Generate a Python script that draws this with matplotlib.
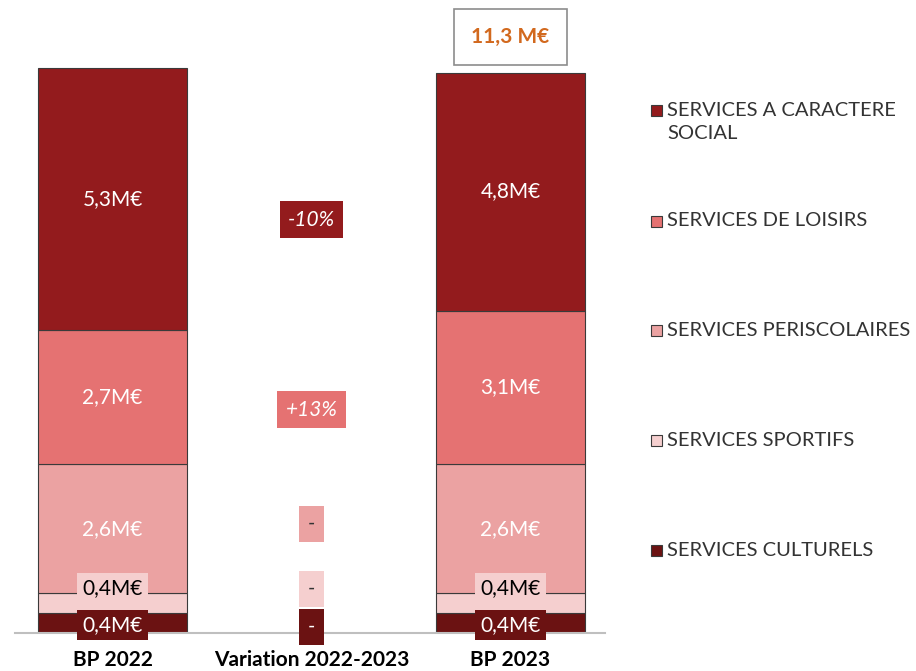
import matplotlib
matplotlib.use("Agg")
import matplotlib.pyplot as plt
from matplotlib.patches import Rectangle

# Données (ordre : du bas vers le haut de la pile)
categories = ["BP 2022", "Variation 2022-2023", "BP 2023"]
services = ["SERVICES CULTURELS", "SERVICES SPORTIFS", "SERVICES PERISCOLAIRES",
            "SERVICES DE LOISIRS", "SERVICES A CARACTERE\nSOCIAL"]
bp_2022 = [0.4, 0.4, 2.6, 2.7, 5.3]
bp_2023 = [0.4, 0.4, 2.6, 3.1, 4.8]
variations = ["-", "-", "-", "+13%", "-10%"]
total_2023 = "11,3 M€"

couleurs = ["#6B1212", "#F5CFCF", "#EBA2A2", "#E57272", "#931B1D"]
couleurs_texte = ["white", "black", "white", "white", "white"]

# position verticale des étiquettes de variation (en unités de l'axe)
y_variation = [0.12, 0.89, 2.2, 4.5, 8.33]

plt.rcParams['font.family'] = ['Lato', 'DejaVu Sans']

fig = plt.figure(figsize=(9.16, 6.71), dpi=100)
ax = fig.add_axes([15 / 916, 38 / 671, 590 / 916, 620 / 671])

x_pos = [0, 1, 2]
largeur = 0.75


def barre_empilee(x, valeurs):
    bas = 0
    for i, v in enumerate(valeurs):
        ax.bar(x, v, largeur, bottom=bas, color=couleurs[i], edgecolor="#3a3a3a", linewidth=0.8)
        etiquette = f"{v:.1f}M€".replace(".", ",")
        if i == 0:
            y_txt = 0.16
        elif i == 1:
            y_txt = bas + v / 2 + 0.3
        else:
            y_txt = bas + v / 2
        ax.text(x, y_txt, etiquette, ha="center", va="center", fontsize=15,
                color=couleurs_texte[i],
                bbox=dict(boxstyle="square,pad=0.25", facecolor=couleurs[i], edgecolor="none"))
        bas += v
    return bas


barre_empilee(x_pos[0], bp_2022)
haut_2023 = barre_empilee(x_pos[2], bp_2023)

# Étiquettes de variation au centre
for i, var in enumerate(variations):
    txt_color = "white" if i in (0, 3, 4) else "#333333"
    ax.text(x_pos[1], y_variation[i], var,
            ha="center", va="center", fontsize=15, style="italic", color=txt_color,
            bbox=dict(boxstyle="square,pad=0.4", facecolor=couleurs[i], edgecolor="none"))

# Total au-dessus de BP 2023
ax.text(x_pos[2], haut_2023 + 0.72, total_2023, ha="center", va="center", fontsize=15,
        fontweight="bold", color="#D2691E",
        bbox=dict(boxstyle="square,pad=0.85", facecolor="white", edgecolor="#8c8c8c", linewidth=1.2))

ax.set_xlim(-0.49, 2.475)
ax.set_ylim(0, 12.5)
ax.set_xticks(x_pos)
ax.set_xticklabels(categories, fontsize=15, fontweight="bold")
ax.tick_params(axis="x", length=0, pad=12)
ax.set_yticks([])
for cote in ["top", "right", "left"]:
    ax.spines[cote].set_visible(False)
ax.spines["bottom"].set_color("#BFBFBF")
ax.spines["bottom"].set_linewidth(1.5)

# Légende dessinée à la main (du haut vers le bas)
y_legende = [550, 440, 330, 221, 110]
for i, nom in enumerate(services):
    y = 1 - y_legende[i] / 671
    fig.patches.append(Rectangle((651 / 916, y - 6 / 671), 11 / 916, 11 / 671,
                                 transform=fig.transFigure, facecolor=couleurs[i],
                                 edgecolor="#3a3a3a", linewidth=0.8))
    fig.text(667 / 916, y + (8 / 671 if "\n" in nom else 0), nom, ha="left",
             va="top" if "\n" in nom else "center",
             fontsize=14.5, color="#333333", linespacing=1.4)

fig.savefig("out.png", dpi=100)
